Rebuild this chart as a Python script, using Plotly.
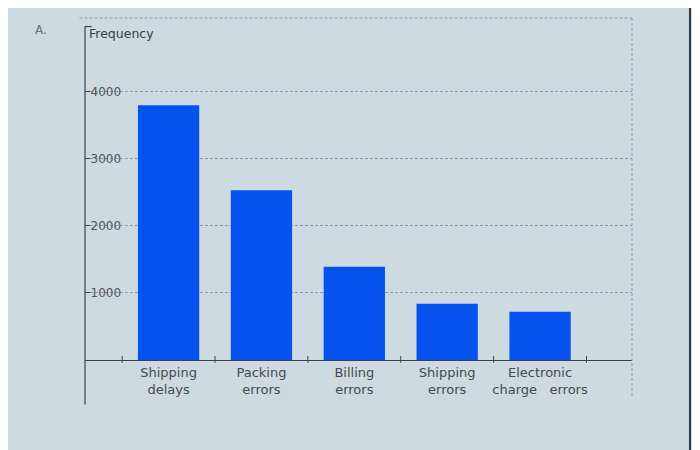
import plotly.graph_objects as go

# error categories and how often they occurred
categories = ["Shipping<br>delays", "Packing<br>errors", "Billing<br>errors",
              "Shipping<br>errors", "Electronic<br>charge   errors"]
frequency = [3800, 2530, 1390, 840, 720]
y_ticks = [1000, 2000, 3000, 4000]

bg = "#cddae2"
grid = "#8a9aa6"

fig = go.Figure()
fig.add_trace(go.Bar(x=list(range(len(categories))), y=frequency,
                     marker=dict(color="#0652ef", line=dict(width=0)),
                     width=0.66))

# page has an 8px body margin, so margins are pulled in by that much
fig.update_layout(
    width=700, height=450,
    margin=dict(l=77, r=76, t=10, b=98),
    paper_bgcolor=bg, plot_bgcolor=bg,
    font=dict(family="DejaVu Sans", color="#4a4f55"),
    showlegend=False,
)

fig.update_xaxes(
    range=[-0.9, 4.99],
    tickmode="array", tickvals=list(range(len(categories))), ticktext=categories,
    tickfont=dict(size=13, color="#454a50"),
    showgrid=False, zeroline=False,
    showline=True, linecolor="#3c4248", linewidth=1.2,
    ticks="", ticklen=0,
)

fig.update_yaxes(
    range=[0, 5100],
    tickvals=y_ticks,
    ticks="inside", ticklen=5, tickcolor="#3c4248",
    ticklabelposition="inside",
    tickfont=dict(size=12, color="#50555b"),
    showgrid=True, gridcolor=grid, griddash="3px,2px", gridwidth=1,
    zeroline=False, showline=False,
)

# left axis line runs past zero and up to the title
fig.add_shape(type="line", xref="paper", yref="paper", x0=0, x1=0, y0=-0.13, y1=0.975,
              line=dict(color="#3c4248", width=1.2))
fig.add_shape(type="line", xref="paper", yref="paper", x0=0, x1=0.012, y0=0.975, y1=0.975,
              line=dict(color="#3c4248", width=1.2))
# dashed frame on top and right
fig.add_shape(type="line", xref="paper", yref="paper", x0=-0.01, x1=1, y0=1, y1=1,
              line=dict(color=grid, width=1, dash="3px,2px"))
fig.add_shape(type="line", xref="paper", yref="paper", x0=1, x1=1, y0=1, y1=-0.11,
              line=dict(color=grid, width=1, dash="3px,2px"))
# little ticks on the category axis
for b in [-0.5, 0.5, 1.5, 2.5, 3.5, 4.5]:
    fig.add_shape(type="line", xref="x", yref="paper", x0=b, x1=b, y0=-0.008, y1=0.012,
                  line=dict(color="#3c4248", width=1))

# right screen edge from the photo
fig.add_shape(type="line", xref="paper", yref="paper", x0=1.106, x1=1.106, y0=-0.3, y1=1.05,
              line=dict(color="#2f3a42", width=2))

fig.add_annotation(text="Frequency", xref="paper", yref="paper", x=0.004, y=0.955,
                   xanchor="left", yanchor="middle", showarrow=False,
                   font=dict(size=12.5, color="#3a3f45"))
fig.add_annotation(text="A.", xref="paper", yref="paper", x=-0.095, y=0.965,
                   xanchor="left", yanchor="middle", showarrow=False,
                   font=dict(size=12, color="#6a7178"))

fig.write_html("out.html")
